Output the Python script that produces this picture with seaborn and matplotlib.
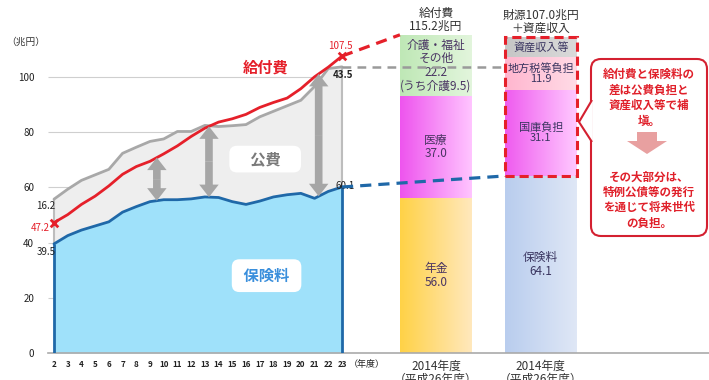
import numpy as np
import pandas as pd
import matplotlib
matplotlib.use("Agg")
import matplotlib.pyplot as plt
import seaborn as sns
from matplotlib.patches import FancyBboxPatch, Polygon, Rectangle, FancyArrowPatch
from matplotlib.colors import LinearSegmentedColormap

# ---------------- data ----------------
years = list(range(2, 24))
year_labels = [str(y) for y in years]
benefits = [47.2, 50.1, 53.8, 56.8, 60.5, 64.7, 67.5, 69.4, 72.1, 75.0, 78.4,
            81.4, 83.6, 84.8, 86.4, 88.9, 90.7, 92.3, 95.7, 100.0, 103.5, 107.5]
revenue_total = [55.7, 59.3, 62.5, 64.5, 66.5, 72.3, 74.5, 76.6, 77.5, 80.2, 80.2,
                 82.4, 82.0, 82.3, 82.7, 85.5, 87.5, 89.5, 91.5, 96.5, 103.0, 103.6]
contributions = [39.5, 42.5, 44.5, 46.0, 47.5, 51.0, 53.0, 54.8, 55.5, 55.5, 55.8,
                 56.5, 56.3, 54.8, 53.8, 55.0, 56.5, 57.3, 57.8, 56.0, 58.5, 60.1]
public_gap_start = 16.2
public_gap_end = 43.5

benefit_parts = ["年金", "医療", "介護・福祉\nその他"]
benefit_values = [56.0, 37.0, 22.2]
benefit_notes = ["", "", "(うち介護9.5)"]
funding_parts = ["保険料", "国庫負担", "地方税等負担", "資産収入等"]
funding_values = [64.1, 31.1, 11.9, 7.3]
funding_show_value = [True, True, True, False]
bar_titles = ["給付費\n115.2兆円", "財源107.0兆円\n＋資産収入"]
bar_year_label = "2014年度\n（平成26年度）"
arrow_years = [9.5, 13.3, 21.3]
y_ticks = [0, 20, 40, 60, 80, 100]

callout_top = "給付費と保険料の\n差は公費負担と\n資産収入等で補\n塡。"
callout_bottom = "その大部分は、\n特例公債等の発行\nを通じて将来世代\nの負担。"

# ---------------- style ----------------
sns.set_theme(style="white")
plt.rcParams['font.family'] = ['Noto Sans CJK JP', 'DejaVu Sans']

RED = "#e5202a"
BLUE_LINE = "#1f68a8"
BLUE_FILL = "#9fe1fa"
GRAY_LINE = "#a8a8a8"
GRAY_FILL = "#eeeeee"
ARROW_GRAY = "#a6a6a6"

W, H = 709, 380
PXY = 13.714          # px per year
PXV = 2.762           # px per value unit
X0 = 2 - 6 / PXY
XMAX = X0 + 661 / PXY
YMAX = 348 / PXV

fig = plt.figure(figsize=(W / 100, H / 100), dpi=100)
ax = fig.add_axes([48 / W, (H - 353) / H, 661 / W, 348 / H])

# gridlines under the area chart
ax.hlines(y_ticks[1:], X0, years[-1], color="#cfcfcf", lw=0.8, zorder=0)

# areas
ax.fill_between(years, 0, contributions, color=BLUE_FILL, lw=0, zorder=1)
ax.fill_between(years, contributions, revenue_total, color=GRAY_FILL, lw=0, zorder=1)

# edges
ax.vlines([years[0], years[-1]], 0, [contributions[0], contributions[-1]], color=BLUE_LINE, lw=2, zorder=3)
ax.vlines([years[0], years[-1]], [contributions[0], contributions[-1]],
          [revenue_total[0], revenue_total[-1]], color="#bdbdbd", lw=1.5, zorder=3)

# lines
sns.lineplot(x=years, y=revenue_total, color=GRAY_LINE, lw=2, ax=ax, zorder=3)
sns.lineplot(x=years, y=contributions, color=BLUE_LINE, lw=2, ax=ax, zorder=3)
sns.lineplot(x=years, y=benefits, color=RED, lw=2, ax=ax, zorder=4)
sns.scatterplot(x=[years[0], years[-1]], y=[benefits[0], benefits[-1]], marker="x",
                color=RED, s=30, linewidth=2, ax=ax, zorder=5)

# gray double arrows
for ay in arrow_years:
    lo = float(np.interp(ay, years, contributions))
    hi = float(np.interp(ay, years, benefits))
    mid = (lo + hi) / 2
    for end in (lo, hi):
        ax.add_patch(FancyArrowPatch((ay, mid), (ay, end),
                                     arrowstyle="simple,head_length=0.9,head_width=1.4,tail_width=0.55",
                                     mutation_scale=10, color=ARROW_GRAY, lw=0,
                                     shrinkA=0, shrinkB=0, zorder=4))

# value labels
ax.annotate(f"{public_gap_start}", (years[0], revenue_total[0]), xytext=(1, -5),
            textcoords="offset points", ha="right", va="center", fontsize=7, color="#222")
ax.annotate(f"{benefits[0]}", (years[0], benefits[0]), xytext=(-3, -4),
            textcoords="offset points", ha="right", va="center", fontsize=7, color=RED)
ax.annotate(f"{contributions[0]}", (years[0], contributions[0]), xytext=(1, -6),
            textcoords="offset points", ha="right", va="center", fontsize=7, color="#222")
ax.annotate(f"{benefits[-1]}", (years[-1], benefits[-1]), xytext=(-1, 7),
            textcoords="offset points", ha="center", va="center", fontsize=7, color=RED)
ax.annotate(f"{public_gap_end}", (years[-1], revenue_total[-1]), xytext=(-7, -6),
            textcoords="offset points", ha="left", va="center", fontsize=7, color="#222",
            fontweight="bold")
ax.annotate(f"{contributions[-1]}", (years[-1], contributions[-1]), xytext=(-5, 1),
            textcoords="offset points", ha="left", va="center", fontsize=7, color="#222")

# series labels
ax.text(17.46, 103.2, "給付費", color=RED, fontsize=11, fontweight="bold", ha="center", va="center")
ax.text(17.4, 70.2, "　公費　", color="#7a7a7a", fontsize=11, fontweight="bold", ha="center", va="center",
        bbox=dict(boxstyle="round,pad=0.35,rounding_size=0.5", fc="white", ec="none"), zorder=6)
ax.text(17.5, 28.0, " 保険料 ", color="#3a8fdc", fontsize=11, fontweight="bold", ha="center", va="center",
        bbox=dict(boxstyle="round,pad=0.55,rounding_size=0.5", fc="white", ec="none"), zorder=6)

# ---------------- stacked bars ----------------
bar1_x, bar2_x, bw = 29.85, 37.5, 5.25


def grad_bar(x, bottom, height, c0, c1, z=2):
    bars = ax.bar(x, height, bottom=bottom, width=bw, color=c0, edgecolor="none", zorder=z)
    patch = bars.patches[0]
    cmap = LinearSegmentedColormap.from_list("g", [c0, c1])
    im = ax.imshow(np.linspace(0, 1, 64).reshape(1, -1), cmap=cmap, aspect="auto",
                   extent=[x - bw / 2, x + bw / 2, bottom, bottom + height],
                   zorder=z + 0.1, interpolation="bilinear")
    im.set_clip_path(patch)


b1_cols = [("#ffd247", "#ffe8bc"), ("#ee55ee", "#ffc4ff"), ("#bfe8b6", "#e2f5dc")]
bottom = 0
for name, val, note, (c0, c1) in zip(benefit_parts, benefit_values, benefit_notes, b1_cols):
    grad_bar(bar1_x, bottom, val, c0, c1)
    label = f"{name}\n{val:.1f}" + (f"\n{note}" if note else "")
    ax.text(bar1_x, bottom + val / 2, label, ha="center", va="center", fontsize=8.5,
            color="#4a3563", linespacing=1.05, zorder=7)
    bottom += val
b1_total = bottom

b2_cols = [("#b9cdee", "#dfe7f6"), ("#ef5cef", "#ffc8ff"), ("#ffb6cf", "#ffdbe6"), ("#c6c6c6", "#dadada")]
bottom = 0
for name, val, show, (c0, c1) in zip(funding_parts, funding_values, funding_show_value, b2_cols):
    grad_bar(bar2_x, bottom, val, c0, c1)
    label = f"{name}\n{val:.1f}" if show else name
    ax.text(bar2_x, bottom + val / 2, label, ha="center", va="center",
            fontsize=8 if len(name) > 3 else 8.5, color="#3a3560", linespacing=1.05, zorder=7)
    bottom += val
b2_total = bottom

ax.add_patch(Rectangle((bar2_x - bw / 2, funding_values[0]), bw, b2_total - funding_values[0],
                       fill=False, ec=RED, lw=2.2, ls=(0, (3, 1.6)), zorder=8))

# connectors
ax.plot([years[-1], bar1_x - bw / 2], [benefits[-1], b1_total], color=RED, lw=2.3,
        ls=(0, (3.5, 2.2)), zorder=8)
ax.plot([years[-1], bar2_x - bw / 2], [revenue_total[-1], revenue_total[-1]], color="#9a9a9a",
        lw=1.8, ls=(0, (3.5, 2.5)), zorder=8)
ax.plot([years[-1], bar2_x - bw / 2], [contributions[-1], funding_values[0]], color=BLUE_LINE,
        lw=2.3, ls=(0, (3.5, 2.2)), zorder=8)

# titles above bars
ax.text(bar1_x, b1_total + 5.4, bar_titles[0], ha="center", va="center", fontsize=8.5,
        color="#333", linespacing=1.0, clip_on=False)
ax.text(bar2_x, b1_total + 4.6, bar_titles[1], ha="center", va="center", fontsize=8.5,
        color="#333", linespacing=1.0, clip_on=False)
for bx in (bar1_x, bar2_x):
    ax.text(bx, -2.6, bar_year_label, ha="center", va="top", fontsize=8.5, color="#333",
            linespacing=1.0, clip_on=False)

# axes
ax.set_xlim(X0, XMAX)
ax.set_ylim(0, YMAX)
ax.set_yticks(y_ticks)
ax.set_yticklabels([str(t) for t in y_ticks], fontsize=7, color="#222")
ax.set_xticks(years)
ax.set_xticklabels(year_labels, fontsize=5.8, fontweight="bold", color="#222")
ax.tick_params(axis="y", length=0, pad=10)
ax.tick_params(axis="x", length=0, pad=5)
for s in ("top", "right", "left"):
    ax.spines[s].set_visible(False)
ax.spines["bottom"].set_color("#aaaaaa")
ax.spines["bottom"].set_linewidth(1.2)
ax.grid(False)
ax.text(years[-1] + 0.5, -4.3, "（年度）", fontsize=6.5, ha="left", va="center", color="#222", clip_on=False)

# ---------------- overlay (pixel coords) ----------------
ov = fig.add_axes([0, 0, 1, 1], zorder=5)
ov.set_xlim(0, W)
ov.set_ylim(H, 0)
ov.axis("off")
ov.patch.set_alpha(0)

ov.text(26, 42, "（兆円）", fontsize=7, ha="center", va="center", color="#333")

ov.add_patch(FancyBboxPatch((591, 59), 116, 177, boxstyle="round,pad=0,rounding_size=10",
                            fc="white", ec="#d42030", lw=1.5, zorder=2))
ov.add_patch(Polygon([(592, 100), (579, 122), (592, 142)], closed=False, fc="white",
                     ec="#d42030", lw=1.5, zorder=3))
ov.text(649, 98, callout_top, ha="center", va="center", fontsize=8.3, fontweight="bold",
        color="#e0202a", linespacing=1.25, zorder=4)
ov.add_patch(Polygon([(637, 132), (657, 132), (657, 141), (667, 141), (647, 154), (627, 141), (637, 141)],
                     closed=True, fc="#e8a0a0", ec="none", zorder=4))
ov.text(649, 200, callout_bottom, ha="center", va="center", fontsize=8.3, fontweight="bold",
        color="#e0202a", linespacing=1.25, zorder=4)

fig.savefig("out.png", dpi=100)
